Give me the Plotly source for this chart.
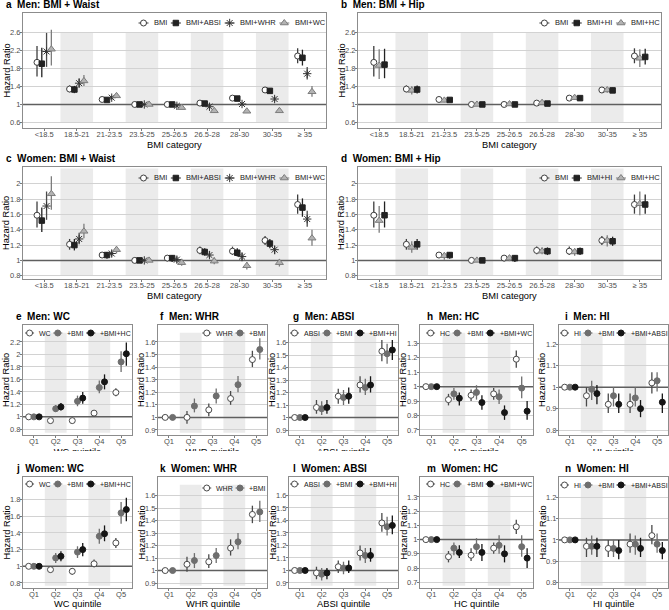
import plotly.graph_objects as go

W, H = 669, 610
FONT = "Liberation Sans, Arial, Helvetica, sans-serif"

# ------------------------------------------------------------------ data
bmi_cats = ["<18.5", "18.5-21", "21-23.5", "23.5-25", "25-26.5", "26.5-28", "28-30", "30-35", "≥ 35"]
quintiles = ["Q1", "Q2", "Q3", "Q4", "Q5"]

ticks_a = [0.6, 1, 1.4, 1.8, 2.2, 2.6]
ticks_c = [0.8, 1, 1.2, 1.4, 1.6, 1.8, 2]
ticks_e = [0.8, 1, 1.2, 1.4, 1.6, 1.8, 2, 2.2]
ticks_f = [0.9, 1, 1.1, 1.2, 1.3, 1.4, 1.5, 1.6]
ticks_h = [0.7, 0.8, 0.9, 1, 1.1, 1.2, 1.3]
ticks_i = [0.8, 0.9, 1, 1.1, 1.2]
ticks_j = [0.8, 1, 1.2, 1.4, 1.6, 1.8]

# Men, BMI categories
men_bmi_hr = [1.93, 1.34, 1.11, 1.00, 1.00, 1.03, 1.14, 1.32, 2.07]
men_bmi_lo = [1.62, 1.27, 1.07, 1.00, 0.98, 1.00, 1.10, 1.27, 1.91]
men_bmi_hi = [2.29, 1.42, 1.15, 1.00, 1.03, 1.06, 1.19, 1.38, 2.24]
men_bmi_absi_hr = [1.90, 1.33, 1.10, 1.00, 1.00, 1.02, 1.13, 1.30, 2.03]
men_bmi_absi_lo = [1.60, 1.25, 1.06, 1.00, 0.98, 0.99, 1.09, 1.25, 1.86]
men_bmi_absi_hi = [2.25, 1.41, 1.14, 1.00, 1.03, 1.05, 1.18, 1.36, 2.21]
men_bmi_whr_hr = [2.17, 1.47, 1.15, 1.00, 0.97, 0.95, 1.01, 1.12, 1.68]
men_bmi_whr_lo = [1.83, 1.37, 1.11, 1.00, 0.94, 0.92, 0.97, 1.07, 1.55]
men_bmi_whr_hi = [2.58, 1.58, 1.19, 1.00, 1.00, 0.99, 1.05, 1.17, 1.83]
men_bmi_wc_hr = [2.22, 1.52, 1.19, 1.00, 0.93, 0.86, 0.85, 0.86, 1.28]
men_bmi_wc_lo = [1.86, 1.41, 1.15, 1.00, 0.90, 0.83, 0.81, 0.82, 1.17]
men_bmi_wc_hi = [2.65, 1.65, 1.24, 1.00, 0.96, 0.89, 0.88, 0.91, 1.41]
men_bmi_hc_hr = [1.86, 1.31, 1.09, 1.00, 1.01, 1.04, 1.15, 1.32, 2.02]
men_bmi_hc_lo = [1.56, 1.22, 1.05, 1.00, 0.99, 1.01, 1.11, 1.26, 1.83]
men_bmi_hc_hi = [2.22, 1.40, 1.13, 1.00, 1.04, 1.07, 1.19, 1.38, 2.22]
men_bmi_hi_hr = [1.88, 1.33, 1.10, 1.00, 1.00, 1.02, 1.14, 1.31, 2.05]
men_bmi_hi_lo = [1.58, 1.24, 1.06, 1.00, 0.98, 1.00, 1.10, 1.26, 1.88]
men_bmi_hi_hi = [2.23, 1.42, 1.14, 1.00, 1.03, 1.05, 1.18, 1.37, 2.23]

# Women, BMI categories
women_bmi_hr = [1.59, 1.21, 1.07, 1.00, 1.03, 1.13, 1.12, 1.26, 1.73]
women_bmi_lo = [1.43, 1.14, 1.03, 1.00, 0.99, 1.08, 1.07, 1.20, 1.61]
women_bmi_hi = [1.77, 1.28, 1.11, 1.00, 1.07, 1.18, 1.18, 1.32, 1.86]
women_bmi_absi_hr = [1.52, 1.20, 1.07, 1.00, 1.03, 1.11, 1.10, 1.22, 1.69]
women_bmi_absi_lo = [1.37, 1.13, 1.02, 1.00, 0.98, 1.06, 1.05, 1.16, 1.57]
women_bmi_absi_hi = [1.69, 1.28, 1.11, 1.00, 1.07, 1.16, 1.16, 1.28, 1.81]
women_bmi_whr_hr = [1.71, 1.28, 1.09, 1.00, 1.01, 1.07, 1.05, 1.14, 1.54]
women_bmi_whr_lo = [1.53, 1.21, 1.05, 1.00, 0.97, 1.03, 0.99, 1.08, 1.44]
women_bmi_whr_hi = [1.90, 1.36, 1.13, 1.00, 1.05, 1.12, 1.10, 1.19, 1.65]
women_bmi_wc_hr = [1.87, 1.38, 1.14, 1.00, 0.97, 0.99, 0.93, 0.97, 1.29]
women_bmi_wc_lo = [1.66, 1.29, 1.09, 1.00, 0.93, 0.95, 0.88, 0.92, 1.19]
women_bmi_wc_hi = [2.10, 1.48, 1.18, 1.00, 1.02, 1.04, 0.98, 1.02, 1.40]
women_bmi_hc_hr = [1.52, 1.17, 1.06, 1.00, 1.03, 1.12, 1.11, 1.26, 1.74]
women_bmi_hc_lo = [1.36, 1.10, 1.01, 1.00, 0.99, 1.08, 1.06, 1.18, 1.59]
women_bmi_hc_hi = [1.71, 1.25, 1.10, 1.00, 1.07, 1.17, 1.16, 1.33, 1.90]
women_bmi_hi_hr = [1.59, 1.21, 1.07, 1.00, 1.03, 1.12, 1.12, 1.25, 1.73]
women_bmi_hi_lo = [1.43, 1.14, 1.02, 1.00, 0.98, 1.07, 1.07, 1.19, 1.61]
women_bmi_hi_hi = [1.77, 1.28, 1.11, 1.00, 1.07, 1.17, 1.17, 1.31, 1.86]

# Men, quintiles
men_wc_hr = [1.00, 0.94, 0.94, 1.06, 1.39]
men_wc_lo = [1.00, 0.90, 0.90, 1.01, 1.33]
men_wc_hi = [1.00, 0.98, 0.99, 1.11, 1.46]
men_wc_bmi_hr = [1.00, 1.13, 1.25, 1.47, 1.88]
men_wc_bmi_lo = [1.00, 1.08, 1.17, 1.38, 1.72]
men_wc_bmi_hi = [1.00, 1.19, 1.34, 1.58, 2.05]
men_wc_bmihc_hr = [1.00, 1.16, 1.30, 1.56, 2.01]
men_wc_bmihc_lo = [1.00, 1.10, 1.21, 1.44, 1.82]
men_wc_bmihc_hi = [1.00, 1.22, 1.40, 1.68, 2.19]

men_whr_hr = [1.00, 1.00, 1.06, 1.15, 1.46]
men_whr_lo = [1.00, 0.95, 1.01, 1.10, 1.40]
men_whr_hi = [1.00, 1.05, 1.11, 1.21, 1.53]
men_whr_bmi_hr = [1.00, 1.09, 1.17, 1.26, 1.54]
men_whr_bmi_lo = [1.00, 1.04, 1.11, 1.20, 1.46]
men_whr_bmi_hi = [1.00, 1.15, 1.23, 1.33, 1.63]

men_absi_hr = [1.00, 1.08, 1.17, 1.26, 1.53]
men_absi_lo = [1.00, 1.03, 1.11, 1.20, 1.45]
men_absi_hi = [1.00, 1.14, 1.23, 1.33, 1.62]
men_absi_bmi_hr = [1.00, 1.07, 1.16, 1.24, 1.51]
men_absi_bmi_lo = [1.00, 1.02, 1.10, 1.18, 1.43]
men_absi_bmi_hi = [1.00, 1.13, 1.22, 1.31, 1.59]
men_absi_bmihi_hr = [1.00, 1.08, 1.17, 1.26, 1.54]
men_absi_bmihi_lo = [1.00, 1.03, 1.11, 1.20, 1.46]
men_absi_bmihi_hi = [1.00, 1.14, 1.24, 1.33, 1.62]

men_hc_hr = [1.00, 0.91, 0.94, 0.95, 1.19]
men_hc_lo = [1.00, 0.87, 0.90, 0.91, 1.13]
men_hc_hi = [1.00, 0.95, 0.98, 0.99, 1.25]
men_hc_bmi_hr = [1.00, 0.95, 0.96, 0.93, 0.99]
men_hc_bmi_lo = [1.00, 0.91, 0.91, 0.88, 0.92]
men_hc_bmi_hi = [1.00, 0.99, 1.01, 0.98, 1.07]
men_hc_bmiwc_hr = [1.00, 0.92, 0.89, 0.82, 0.83]
men_hc_bmiwc_lo = [1.00, 0.87, 0.84, 0.77, 0.77]
men_hc_bmiwc_hi = [1.00, 0.96, 0.94, 0.87, 0.90]

men_hi_hr = [1.00, 0.96, 0.92, 0.92, 1.02]
men_hi_lo = [1.00, 0.91, 0.88, 0.88, 0.97]
men_hi_hi = [1.00, 1.00, 0.97, 0.97, 1.07]
men_hi_bmi_hr = [1.00, 0.99, 0.96, 0.95, 1.03]
men_hi_bmi_lo = [1.00, 0.94, 0.91, 0.91, 0.98]
men_hi_bmi_hi = [1.00, 1.03, 1.00, 1.00, 1.07]
men_hi_bmiabsi_hr = [1.00, 0.97, 0.92, 0.90, 0.93]
men_hi_bmiabsi_lo = [1.00, 0.92, 0.88, 0.86, 0.88]
men_hi_bmiabsi_hi = [1.00, 1.01, 0.97, 0.94, 0.97]

# Women, quintiles
women_wc_hr = [1.00, 0.96, 0.94, 1.03, 1.28]
women_wc_lo = [1.00, 0.92, 0.90, 0.99, 1.22]
women_wc_hi = [1.00, 1.00, 0.98, 1.08, 1.34]
women_wc_bmi_hr = [1.00, 1.10, 1.17, 1.36, 1.64]
women_wc_bmi_lo = [1.00, 1.04, 1.10, 1.27, 1.51]
women_wc_bmi_hi = [1.00, 1.16, 1.24, 1.45, 1.77]
women_wc_bmihc_hr = [1.00, 1.12, 1.20, 1.39, 1.68]
women_wc_bmihc_lo = [1.00, 1.06, 1.12, 1.30, 1.54]
women_wc_bmihc_hi = [1.00, 1.18, 1.28, 1.49, 1.82]

women_whr_hr = [1.00, 1.05, 1.07, 1.18, 1.45]
women_whr_lo = [1.00, 0.99, 1.02, 1.12, 1.38]
women_whr_hi = [1.00, 1.11, 1.13, 1.25, 1.52]
women_whr_bmi_hr = [1.00, 1.08, 1.12, 1.23, 1.47]
women_whr_bmi_lo = [1.00, 1.02, 1.06, 1.17, 1.39]
women_whr_bmi_hi = [1.00, 1.14, 1.18, 1.30, 1.56]

women_absi_hr = [1.00, 0.98, 1.03, 1.14, 1.38]
women_absi_lo = [1.00, 0.93, 0.98, 1.08, 1.31]
women_absi_hi = [1.00, 1.03, 1.08, 1.20, 1.46]
women_absi_bmi_hr = [1.00, 0.97, 1.02, 1.12, 1.35]
women_absi_bmi_lo = [1.00, 0.92, 0.97, 1.06, 1.28]
women_absi_bmi_hi = [1.00, 1.02, 1.07, 1.18, 1.43]
women_absi_bmihi_hr = [1.00, 0.98, 1.02, 1.12, 1.36]
women_absi_bmihi_lo = [1.00, 0.93, 0.98, 1.07, 1.29]
women_absi_bmihi_hi = [1.00, 1.02, 1.08, 1.18, 1.44]

women_hc_hr = [1.00, 0.88, 0.89, 0.94, 1.09]
women_hc_lo = [1.00, 0.84, 0.85, 0.90, 1.04]
women_hc_hi = [1.00, 0.92, 0.94, 0.98, 1.14]
women_hc_bmi_hr = [1.00, 0.94, 0.95, 0.96, 0.95]
women_hc_bmi_lo = [1.00, 0.89, 0.90, 0.90, 0.88]
women_hc_bmi_hi = [1.00, 0.98, 1.01, 1.03, 1.03]
women_hc_bmiwc_hr = [1.00, 0.91, 0.91, 0.90, 0.87]
women_hc_bmiwc_lo = [1.00, 0.87, 0.85, 0.84, 0.80]
women_hc_bmiwc_hi = [1.00, 0.96, 0.97, 0.96, 0.94]

women_hi_hr = [1.00, 0.97, 0.96, 0.98, 1.02]
women_hi_lo = [1.00, 0.92, 0.92, 0.94, 0.98]
women_hi_hi = [1.00, 1.01, 1.00, 1.03, 1.07]
women_hi_bmi_hr = [1.00, 0.97, 0.96, 0.98, 0.98]
women_hi_bmi_lo = [1.00, 0.93, 0.92, 0.93, 0.94]
women_hi_bmi_hi = [1.00, 1.02, 1.00, 1.02, 1.03]
women_hi_bmiabsi_hr = [1.00, 0.97, 0.95, 0.96, 0.95]
women_hi_bmiabsi_lo = [1.00, 0.92, 0.91, 0.92, 0.91]
women_hi_bmiabsi_hi = [1.00, 1.01, 1.00, 1.01, 0.99]

# ------------------------------------------------------------------ styles
BORDER = "#8c8c8c"
GRID = "#d2d2d2"
SHADE = "#ebebeb"
REFC = "#5f5f5f"
TICKC = "#7a7a7a"
TICKFC = "#4d4d4d"

STY = {
    "bmi":   dict(symbol="circle", size=6, fill="white", line="#3d3d3d", bar="#3d3d3d"),
    "sq":    dict(symbol="square", size=5.5, fill="#222222", line="#222222", bar="#222222"),
    "star":  dict(symbol="asterisk-open", size=7, fill="#333333", line="#333333", bar="#4a4a4a"),
    "tri":   dict(symbol="triangle-up", size=7, fill="#b3b3b3", line="#7d7d7d", bar="#7d7d7d"),
    "white": dict(symbol="circle", size=6, fill="white", line="#4a4a4a", bar="#4a4a4a"),
    "grey":  dict(symbol="circle", size=6, fill="#6e6e6e", line="#6e6e6e", bar="#6e6e6e"),
    "black": dict(symbol="circle", size=6, fill="#151515", line="#151515", bar="#151515"),
}

OFF4 = [-0.22, -0.073, 0.073, 0.22]
OFF3b = [-0.165, 0.0, 0.165]
OFF3 = [-0.24, 0.0, 0.24]
OFF2 = [-0.17, 0.17]

bxq = [(23, 132), (158, 267), (289, 398), (420, 533), (559, 668)]
tq_x = [14, 158, 291, 425, 563]

LEG_BMI = dict(fs=7.5, key=10, g1=3.5, g2=5.5)
LEG_Q = dict(fs=7.0, key=9, g1=3, g2=4.5)

def qpanel(col, top, bottom, yr, yt, series, leg, title, xtitle, legdy=8, clip=False):
    l, r = bxq[col]
    offs = OFF3 if len(series) == 3 else OFF2
    return dict(box=(l, top, r, bottom), cats=quintiles, xr=[-0.5, 4.5], yr=yr, yt=yt,
                series=series, offs=offs, legend=leg, legdy=legdy, legst=LEG_Q, title=title,
                tx=tq_x[col], xtitle=xtitle, xtdy=15.5, shade_cats=[1, 3], shade=(0.02, 0.93), clipx=clip)

panels = [
    dict(box=(23, 13, 326, 128), cats=bmi_cats, xr=[-0.65, 8.65], yr=[0.48, 3.02], yt=ticks_a,
         series=[(men_bmi_hr, men_bmi_lo, men_bmi_hi, "bmi"),
                 (men_bmi_absi_hr, men_bmi_absi_lo, men_bmi_absi_hi, "sq"),
                 (men_bmi_whr_hr, men_bmi_whr_lo, men_bmi_whr_hi, "star"),
                 (men_bmi_wc_hr, men_bmi_wc_lo, men_bmi_wc_hi, "tri")],
         offs=OFF4, legend=[("bmi", "BMI"), ("sq", "BMI+ABSI"), ("star", "BMI+WHR"), ("tri", "BMI+WC")],
         legdy=10, legst=LEG_BMI, title="a  Men: BMI + Waist", tx=4, xtitle="BMI category", xtdy=17,
         shade_cats=[1, 3, 5, 7], shade=(0.047, 0.835), clipx=False),
    dict(box=(358, 13, 661, 128), cats=bmi_cats, xr=[-0.65, 8.65], yr=[0.48, 3.02], yt=ticks_a,
         series=[(men_bmi_hr, men_bmi_lo, men_bmi_hi, "bmi"),
                 (men_bmi_hc_hr, men_bmi_hc_lo, men_bmi_hc_hi, "tri"),
                 (men_bmi_hi_hr, men_bmi_hi_lo, men_bmi_hi_hi, "sq")],
         offs=OFF3b, legend=[("bmi", "BMI"), ("sq", "BMI+HI"), ("tri", "BMI+HC")],
         legdy=10, legst=LEG_BMI, title="b  Men: BMI + Hip", tx=339, xtitle="BMI category", xtdy=17,
         shade_cats=[1, 3, 5, 7], shade=(0.047, 0.835), clipx=False),
    dict(box=(23, 167, 326, 279), cats=bmi_cats, xr=[-0.65, 8.65], yr=[0.757, 2.22], yt=ticks_c,
         series=[(women_bmi_hr, women_bmi_lo, women_bmi_hi, "bmi"),
                 (women_bmi_absi_hr, women_bmi_absi_lo, women_bmi_absi_hi, "sq"),
                 (women_bmi_whr_hr, women_bmi_whr_lo, women_bmi_whr_hi, "star"),
                 (women_bmi_wc_hr, women_bmi_wc_lo, women_bmi_wc_hi, "tri")],
         offs=OFF4, legend=[("bmi", "BMI"), ("sq", "BMI+ABSI"), ("star", "BMI+WHR"), ("tri", "BMI+WC")],
         legdy=11, legst=LEG_BMI, title="c  Women: BMI + Waist", tx=4, xtitle="BMI category", xtdy=17,
         shade_cats=[1, 3, 5, 7], shade=(0.029, 0.986), clipx=False),
    dict(box=(358, 167, 661, 279), cats=bmi_cats, xr=[-0.65, 8.65], yr=[0.757, 2.22], yt=ticks_c,
         series=[(women_bmi_hr, women_bmi_lo, women_bmi_hi, "bmi"),
                 (women_bmi_hc_hr, women_bmi_hc_lo, women_bmi_hc_hi, "tri"),
                 (women_bmi_hi_hr, women_bmi_hi_lo, women_bmi_hi_hi, "sq")],
         offs=OFF3b, legend=[("bmi", "BMI"), ("sq", "BMI+HI"), ("tri", "BMI+HC")],
         legdy=11, legst=LEG_BMI, title="d  Women: BMI + Hip", tx=339, xtitle="BMI category", xtdy=17,
         shade_cats=[1, 3, 5, 7], shade=(0.029, 0.986), clipx=False),
    qpanel(0, 325, 435, [0.71, 2.47], ticks_e,
           [(men_wc_hr, men_wc_lo, men_wc_hi, "white"), (men_wc_bmi_hr, men_wc_bmi_lo, men_wc_bmi_hi, "grey"),
            (men_wc_bmihc_hr, men_wc_bmihc_lo, men_wc_bmihc_hi, "black")],
           [("white", "WC"), ("grey", "+BMI"), ("black", "+BMI+HC")], "e  Men: WC", "WC quintile", clip=True),
    qpanel(1, 325, 435, [0.86, 1.735], ticks_f,
           [(men_whr_hr, men_whr_lo, men_whr_hi, "white"), (men_whr_bmi_hr, men_whr_bmi_lo, men_whr_bmi_hi, "grey")],
           [("white", "WHR"), ("grey", "+BMI")], "f  Men: WHR", "WHR quintile", clip=True),
    qpanel(2, 325, 435, [0.86, 1.74], ticks_f,
           [(men_absi_hr, men_absi_lo, men_absi_hi, "white"), (men_absi_bmi_hr, men_absi_bmi_lo, men_absi_bmi_hi, "grey"),
            (men_absi_bmihi_hr, men_absi_bmihi_lo, men_absi_bmihi_hi, "black")],
           [("white", "ABSI"), ("grey", "+BMI"), ("black", "+BMI+HI")], "g  Men: ABSI", "ABSI quintile", clip=True),
    qpanel(3, 325, 435, [0.665, 1.427], ticks_h,
           [(men_hc_hr, men_hc_lo, men_hc_hi, "white"), (men_hc_bmi_hr, men_hc_bmi_lo, men_hc_bmi_hi, "grey"),
            (men_hc_bmiwc_hr, men_hc_bmiwc_lo, men_hc_bmiwc_hi, "black")],
           [("white", "HC"), ("grey", "+BMI"), ("black", "+BMI+WC")], "h  Men: HC", "HC quintile", clip=True),
    qpanel(4, 325, 435, [0.777, 1.29], ticks_i,
           [(men_hi_hr, men_hi_lo, men_hi_hi, "white"), (men_hi_bmi_hr, men_hi_bmi_lo, men_hi_bmi_hi, "grey"),
            (men_hi_bmiabsi_hr, men_hi_bmiabsi_lo, men_hi_bmiabsi_hi, "black")],
           [("white", "HI"), ("grey", "+BMI"), ("black", "+BMI+ABSI")], "i  Men: HI", "HI quintile", clip=True),
    qpanel(0, 477, 588, [0.74, 2.07], ticks_j,
           [(women_wc_hr, women_wc_lo, women_wc_hi, "white"), (women_wc_bmi_hr, women_wc_bmi_lo, women_wc_bmi_hi, "grey"),
            (women_wc_bmihc_hr, women_wc_bmihc_lo, women_wc_bmihc_hi, "black")],
           [("white", "WC"), ("grey", "+BMI"), ("black", "+BMI+HC")], "j  Women: WC", "WC quintile", legdy=7),
    qpanel(1, 477, 588, [0.86, 1.75], ticks_f,
           [(women_whr_hr, women_whr_lo, women_whr_hi, "white"), (women_whr_bmi_hr, women_whr_bmi_lo, women_whr_bmi_hi, "grey")],
           [("white", "WHR"), ("grey", "+BMI")], "k  Women: WHR", "WHR quintile", legdy=11),
    qpanel(2, 477, 588, [0.86, 1.747], ticks_f,
           [(women_absi_hr, women_absi_lo, women_absi_hi, "white"), (women_absi_bmi_hr, women_absi_bmi_lo, women_absi_bmi_hi, "grey"),
            (women_absi_bmihi_hr, women_absi_bmihi_lo, women_absi_bmihi_hi, "black")],
           [("white", "ABSI"), ("grey", "+BMI"), ("black", "+BMI+HI")], "l  Women: ABSI", "ABSI quintile", legdy=7),
    qpanel(3, 477, 588, [0.66, 1.44], ticks_h,
           [(women_hc_hr, women_hc_lo, women_hc_hi, "white"), (women_hc_bmi_hr, women_hc_bmi_lo, women_hc_bmi_hi, "grey"),
            (women_hc_bmiwc_hr, women_hc_bmiwc_lo, women_hc_bmiwc_hi, "black")],
           [("white", "HC"), ("grey", "+BMI"), ("black", "+BMI+WC")], "m  Women: HC", "HC quintile", legdy=7),
    qpanel(4, 477, 588, [0.775, 1.294], ticks_i,
           [(women_hi_hr, women_hi_lo, women_hi_hi, "white"), (women_hi_bmi_hr, women_hi_bmi_lo, women_hi_bmi_hi, "grey"),
            (women_hi_bmiabsi_hr, women_hi_bmiabsi_lo, women_hi_bmiabsi_hi, "black")],
           [("white", "HI"), ("grey", "+BMI"), ("black", "+BMI+ABSI")], "n  Women: HI", "HI quintile", legdy=8),
]

# ------------------------------------------------------------------ helpers
AW = {"B": 667, "M": 833, "I": 278, "+": 584, "A": 667, "S": 667, "W": 944,
      "H": 722, "R": 722, "C": 722}

def tw(s, size):
    return sum(AW.get(c, 556) for c in s) * size / 1000.0

def aname(i, k):
    return f"{k}axis" + ("" if i == 1 else str(i))

def aref(i, k):
    return k + ("" if i == 1 else str(i))

fig = go.Figure()
shapes, annots = [], []
layout = dict(width=W, height=H, margin=dict(l=0, r=0, t=0, b=0, pad=0),
              paper_bgcolor="white", plot_bgcolor="rgba(0,0,0,0)", showlegend=False,
              font=dict(family=FONT, color="#000000"))

leg_lines = {k: [[], []] for k in STY}
leg_marks = {k: [[], []] for k in STY}
clip_txt = [[], [], []]

for i, p in enumerate(panels, start=1):
    l, t, r, b = p["box"]
    xa, ya = aref(i, "x"), aref(i, "y")
    n = len(p["cats"])
    common = dict(showline=True, mirror=True, linecolor=BORDER, linewidth=1, zeroline=False,
                  ticks="outside", ticklen=2, tickwidth=1, tickcolor=TICKC,
                  tickfont=dict(size=7.5, color=TICKFC, family=FONT), fixedrange=True)
    layout[aname(i, "x")] = dict(domain=[l / W, r / W], range=p["xr"], tickmode="array",
                                 tickvals=list(range(n)), ticktext=p["cats"], tickangle=0,
                                 ticklabelstandoff=-3,
                                 anchor=ya, showgrid=False, **common)
    layout[aname(i, "y")] = dict(domain=[1 - b / H, 1 - t / H], range=p["yr"], tickmode="array",
                                 tickvals=p["yt"], ticktext=[f"{v:g}" for v in p["yt"]],
                                 ticklabelstandoff=-2,
                                 anchor=xa, showgrid=True, gridcolor=GRID, gridwidth=1, **common)
    for c in p["shade_cats"]:
        shapes.append(dict(type="rect", xref=xa, yref=ya + " domain", x0=c - 0.5, x1=c + 0.5,
                           y0=p["shade"][0], y1=p["shade"][1], fillcolor=SHADE,
                           line=dict(width=0), layer="below"))
    # reference line at HR = 1 (drawn under the points)
    fig.add_trace(go.Scatter(x=p["xr"], y=[1, 1], mode="lines", xaxis=xa, yaxis=ya,
                             line=dict(color=REFC, width=1.5), hoverinfo="skip"))
    for (hr, lo, hi, sty), off in zip(p["series"], p["offs"]):
        s = STY[sty]
        fig.add_trace(go.Scatter(
            x=[k + off for k in range(n)], y=hr, mode="markers", xaxis=xa, yaxis=ya,
            marker=dict(symbol=s["symbol"], size=s["size"], color=s["fill"],
                        line=dict(color=s["line"], width=1)),
            error_y=dict(type="data", symmetric=False,
                         array=[h - v for h, v in zip(hi, hr)],
                         arrayminus=[v - q for v, q in zip(hr, lo)],
                         color=s["bar"], thickness=1.3, width=0),
            hoverinfo="skip"))
    # panel title
    annots.append(dict(text="<b>" + p["title"] + "</b>", xref="paper", yref="paper",
                       x=p["tx"] / W, y=1 - (t - 9) / H, xanchor="left", yanchor="middle",
                       showarrow=False, font=dict(size=10, color="#000000")))
    # y-axis title
    annots.append(dict(text="Hazard Ratio", xref="paper", yref="paper", x=(l - 17) / W,
                       y=1 - (t + b) / 2 / H, xanchor="center", yanchor="middle",
                       textangle=-90, showarrow=False, font=dict(size=9.3, color="#000000")))
    # x-axis title
    if p["clipx"]:
        clip_txt[0].append((l + r) / 2)
        clip_txt[1].append(b + 18)
        clip_txt[2].append(p["xtitle"])
    else:
        annots.append(dict(text=p["xtitle"], xref="paper", yref="paper", x=(l + r) / 2 / W,
                           y=1 - (b + p["xtdy"]) / H, xanchor="center", yanchor="middle",
                           showarrow=False, font=dict(size=9.3, color="#000000")))
    # legend (drawn by hand, right aligned inside the panel)
    items = p["legend"]
    st = p["legst"]
    widths = [tw(txt, st["fs"]) for _, txt in items]
    total = sum(st["key"] + st["g1"] + w for w in widths) + st["g2"] * (len(items) - 1)
    x = max(r - 3 - total, l + 1)
    ly = t + p["legdy"]
    for (sty, txt), w in zip(items, widths):
        leg_lines[sty][0] += [x, x + st["key"], None]
        leg_lines[sty][1] += [ly, ly, None]
        leg_marks[sty][0].append(x + st["key"] / 2)
        leg_marks[sty][1].append(ly)
        annots.append(dict(text=txt, xref="paper", yref="paper", x=(x + st["key"] + st["g1"]) / W,
                           y=1 - ly / H, xanchor="left", yanchor="middle", showarrow=False,
                           font=dict(size=st["fs"], color="#1a1a1a")))
        x += st["key"] + st["g1"] + w + st["g2"]

# overlay axis (pixel space) for legend keys
NO = len(panels) + 1
layout[aname(NO, "x")] = dict(domain=[0, 1], range=[0, W], visible=False, fixedrange=True, anchor=aref(NO, "y"))
layout[aname(NO, "y")] = dict(domain=[0, 1], range=[H, 0], visible=False, fixedrange=True, anchor=aref(NO, "x"))
for sty, s in STY.items():
    if leg_lines[sty][0]:
        fig.add_trace(go.Scatter(x=leg_lines[sty][0], y=leg_lines[sty][1], mode="lines",
                                 line=dict(color=s["bar"], width=1), xaxis=aref(NO, "x"),
                                 yaxis=aref(NO, "y"), hoverinfo="skip"))
        fig.add_trace(go.Scatter(x=leg_marks[sty][0], y=leg_marks[sty][1], mode="markers",
                                 marker=dict(symbol=s["symbol"], size=s["size"], color=s["fill"],
                                             line=dict(color=s["line"], width=1)),
                                 xaxis=aref(NO, "x"), yaxis=aref(NO, "y"), hoverinfo="skip"))

# clipped x-axis titles of the e-i row (partly covered by the row below)
NC = NO + 1
CLIP_TOP, CLIP_BOT = 440, 451
layout[aname(NC, "x")] = dict(domain=[0, 1], range=[0, W], visible=False, fixedrange=True, anchor=aref(NC, "y"))
layout[aname(NC, "y")] = dict(domain=[1 - CLIP_BOT / H, 1 - CLIP_TOP / H], range=[CLIP_BOT, CLIP_TOP],
                              visible=False, fixedrange=True, anchor=aref(NC, "x"))
fig.add_trace(go.Scatter(x=clip_txt[0], y=clip_txt[1], mode="text", text=clip_txt[2],
                         textposition="middle center", textfont=dict(size=9.3, color="#000000", family=FONT),
                         xaxis=aref(NC, "x"), yaxis=aref(NC, "y"), hoverinfo="skip", cliponaxis=True))

layout["shapes"] = shapes
layout["annotations"] = annots
fig.update_layout(**layout)
fig.write_html("out.html", config={"displayModeBar": False, "staticPlot": True},
               post_script="document.body.style.margin='0px';document.body.style.overflow='hidden';")
